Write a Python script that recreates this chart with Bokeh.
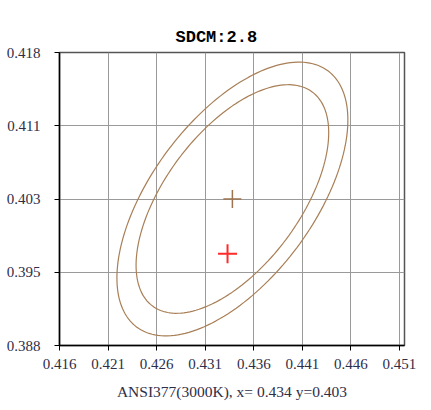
import numpy as np
from bokeh.plotting import figure
from bokeh.models import FixedTicker, Range1d
from bokeh.embed import file_html
from bokeh.resources import INLINE

# ---- data ----
x_ticks = [0.416, 0.421, 0.426, 0.431, 0.436, 0.441, 0.446, 0.451]
x_tick_labels = ["0.416", "0.421", "0.426", "0.431", "0.436", "0.441", "0.446", "0.451"]
y_ticks = [0.388, 0.3955, 0.403, 0.4105, 0.418]
y_tick_labels = ["0.388", "0.395", "0.403", "0.411", "0.418"]

target_x = [0.4338]   # ANSI 3000K centre
target_y = [0.4030]
meas_x = [0.4333]     # measured chromaticity
meas_y = [0.3974]

ellipse_a = [0.0164, 0.0137]   # semi-major axes (outer, inner)
ellipse_b = [0.0083, 0.0069]   # semi-minor axes
ellipse_theta_deg = 53.0

title_text = "SDCM:2.8"
xlabel_text = "ANSI377(3000K), x= 0.434 y=0.403"

# ---- figure ----
p = figure(width=431, height=408, output_backend="svg", toolbar_location=None,
           x_range=Range1d(0.416, 0.45152), y_range=Range1d(0.388, 0.418),
           min_border_left=63, min_border_right=23, min_border_top=56,
           min_border_bottom=59, title=title_text)
p.styles = {"margin-left": "-4px", "margin-top": "-4px"}

p.title.align = "left"
p.title.offset = 116
p.title.text_font = "Liberation Mono"
p.title.text_font_style = "bold"
p.title.text_font_size = "17px"
p.title.text_color = "#000000"
p.title.standoff = 11

p.background_fill_color = "#ffffff"
p.border_fill_color = "#ffffff"
p.outline_line_color = "#555555"
p.outline_line_width = 1.5

p.xaxis.ticker = FixedTicker(ticks=x_ticks)
p.yaxis.ticker = FixedTicker(ticks=y_ticks)
p.xaxis.major_label_overrides = {t: l for t, l in zip(x_ticks, x_tick_labels)}
p.yaxis.major_label_overrides = {t: l for t, l in zip(y_ticks, y_tick_labels)}

for ax in (p.xaxis[0], p.yaxis[0]):
    ax.axis_line_color = "#000000"
    ax.axis_line_width = 1.5
    ax.major_tick_line_color = "#000000"
    ax.major_tick_in = 0
    ax.major_tick_out = 5
    ax.minor_tick_line_color = None
    ax.major_label_text_font = "Liberation Serif"
    ax.major_label_text_font_size = "15px"
    ax.major_label_text_color = "#2e2e48"

p.xaxis.major_label_standoff = 8
p.yaxis.major_label_standoff = 14
p.xaxis.axis_label = xlabel_text
p.xaxis.axis_label_text_font = "Liberation Serif"
p.xaxis.axis_label_text_font_size = "15.5px"
p.xaxis.axis_label_text_font_style = "normal"
p.xaxis.axis_label_text_color = "#2e2e48"
p.xaxis.axis_label_standoff = 11

p.grid.grid_line_color = "#9a9a9a"
p.grid.grid_line_width = 1

# ---- ellipses ----
t = np.linspace(0, 2 * np.pi, 181)
th = np.deg2rad(ellipse_theta_deg)
for a, b in zip(ellipse_a, ellipse_b):
    ex = target_x[0] + a * np.cos(t) * np.cos(th) - b * np.sin(t) * np.sin(th)
    ey = target_y[0] + a * np.cos(t) * np.sin(th) + b * np.sin(t) * np.cos(th)
    p.line(ex, ey, line_color="#a87f56", line_width=1.2)

# ---- markers ----
p.scatter(target_x, target_y, marker="cross", size=18, line_color="#9c7550", line_width=1.5)
p.scatter(meas_x, meas_y, marker="cross", size=19, line_color="#ff2a2a", line_width=2)

open("out.html", "w").write(file_html(p, INLINE))
